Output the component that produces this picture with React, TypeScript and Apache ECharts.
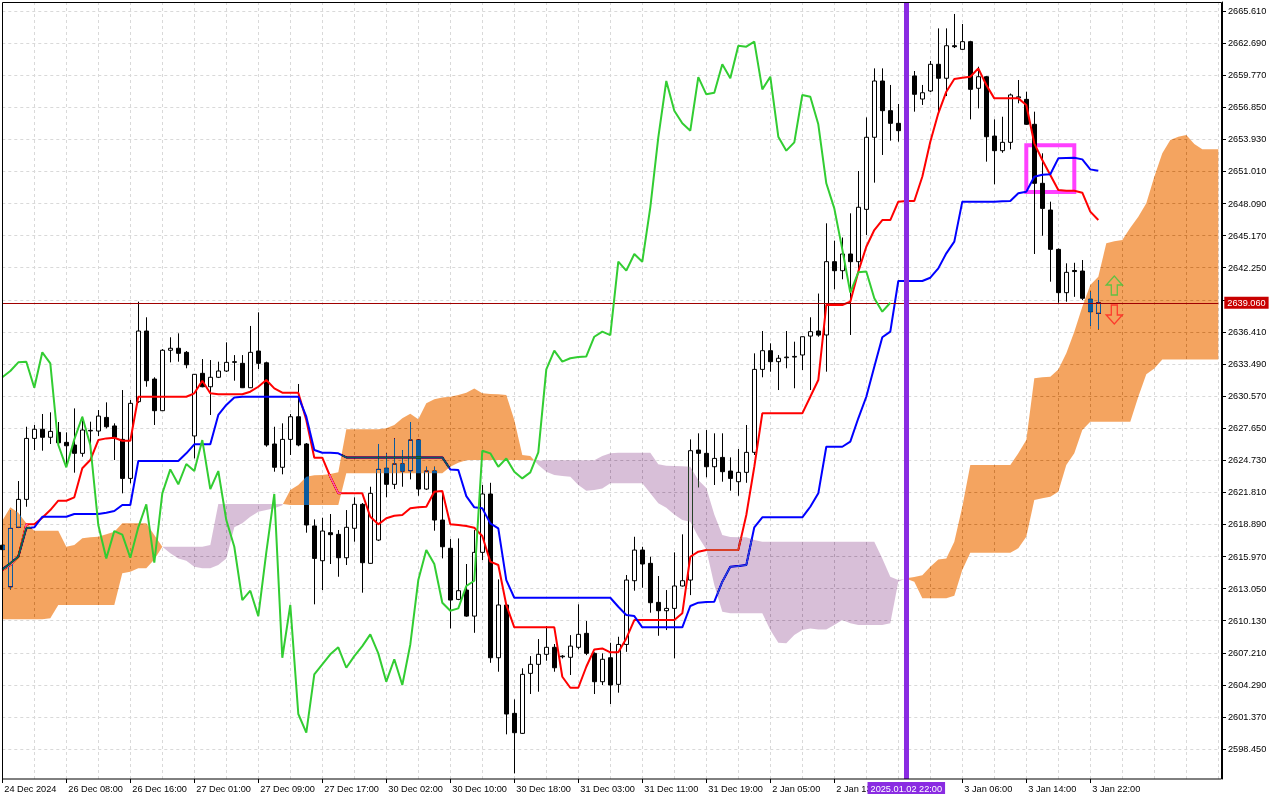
import React, { useEffect, useRef } from "react";
import * as echarts from "echarts";

// ---------- DATA ----------
const opens = [
  2617.0, 2613.22, 2618.63, 2621.17, 2626.72, 2627.55, 2626.82, 2627.27, 2626.36, 2626.12,
  2625.36, 2627.4, 2627.39, 2628.63, 2627.85, 2626.63, 2623.08, 2630.06, 2636.49, 2632.12,
  2629.24, 2634.74, 2634.92, 2634.55, 2626.94, 2632.64, 2631.42, 2632.28, 2632.85, 2633.64,
  2633.55, 2631.33, 2634.67, 2633.6, 2626.21, 2624.09, 2626.63, 2628.69, 2626.21, 2618.75,
  2615.59, 2618.14, 2617.99, 2615.86, 2618.54, 2620.72, 2615.35, 2617.47, 2624.0, 2622.54,
  2624.39, 2623.78, 2626.57, 2622.11, 2623.75, 2619.29, 2616.72, 2612.07, 2612.92, 2610.55,
  2616.35, 2621.66, 2606.76, 2611.56, 2601.7, 2599.88, 2605.34, 2606.16, 2607.07, 2607.71,
  2606.85, 2606.8, 2607.71, 2608.98, 2607.16, 2604.58, 2606.76, 2604.34, 2607.97, 2613.77,
  2616.56, 2615.35, 2611.8, 2611.04, 2611.25, 2613.29, 2613.83, 2625.66, 2625.36, 2624.14,
  2624.99, 2623.75, 2622.78, 2623.63, 2625.45, 2633.0, 2634.7, 2633.7, 2634.06, 2634.12,
  2634.31, 2636.03, 2636.49, 2636.13, 2642.8, 2641.98, 2643.5, 2642.8, 2647.56, 2654.12,
  2659.24, 2656.54, 2655.39, 2654.72, 2659.7, 2657.6, 2658.33, 2660.76, 2659.49, 2662.45,
  2662.12, 2662.82, 2658.58, 2659.63, 2654.23, 2652.9, 2653.66, 2657.7, 2657.57, 2655.3,
  2649.93, 2647.5, 2643.92, 2639.98, 2642.0, 2641.95, 2639.38, 2638.1,
];
const closes = [
  2616.6, 2618.53, 2621.17, 2626.72, 2627.55, 2626.82, 2627.36, 2626.32, 2626.05, 2625.36,
  2627.48, 2627.45, 2628.75, 2627.78, 2626.82, 2623.08, 2629.91, 2636.49, 2631.97, 2629.24,
  2634.74, 2634.92, 2634.46, 2633.42, 2632.55, 2631.42, 2632.28, 2632.85, 2633.64, 2633.7,
  2631.33, 2634.55, 2633.55, 2626.12, 2624.09, 2626.63, 2628.69, 2626.12, 2618.84, 2615.8,
  2618.29, 2617.96, 2615.86, 2618.63, 2620.72, 2615.41, 2621.72, 2623.9, 2622.54, 2624.39,
  2623.75, 2626.57, 2622.11, 2623.75, 2619.29, 2616.86, 2612.01, 2612.86, 2610.55, 2616.35,
  2621.66, 2606.76, 2611.56, 2601.64, 2599.94, 2605.25, 2606.16, 2607.07, 2607.71, 2605.85,
  2606.91, 2607.82, 2608.89, 2607.16, 2604.58, 2606.62, 2604.28, 2607.97, 2613.83, 2616.56,
  2615.29, 2611.77, 2611.04, 2611.25, 2613.29, 2613.77, 2625.6, 2625.36, 2624.14, 2624.9,
  2623.69, 2623.08, 2623.63, 2625.45, 2633.0, 2634.7, 2633.7, 2634.01, 2634.12, 2634.18,
  2635.97, 2636.43, 2636.12, 2642.8, 2641.98, 2643.5, 2642.8, 2647.75, 2654.12, 2659.24,
  2656.54, 2655.39, 2654.72, 2659.6, 2658.03, 2658.17, 2660.76, 2659.49, 2662.45, 2662.36,
  2662.82, 2658.48, 2659.63, 2654.17, 2652.9, 2653.66, 2657.97, 2657.8, 2655.3, 2649.93,
  2647.65, 2643.92, 2639.98, 2641.83, 2641.9, 2639.47, 2638.25, 2639.06,
];
const lows = [
  2616.0, 2612.98, 2618.56, 2620.5, 2625.66, 2625.6, 2626.21, 2626.12, 2624.23, 2623.6,
  2625.05, 2625.36, 2626.94, 2627.63, 2624.75, 2621.72, 2622.63, 2629.95, 2631.42, 2627.94,
  2629.21, 2633.64, 2633.7, 2633.1, 2624.9, 2631.37, 2628.85, 2632.21, 2632.76, 2631.97,
  2631.3, 2631.3, 2633.03, 2625.96, 2623.69, 2623.45, 2625.21, 2626.0, 2618.14, 2611.62,
  2612.92, 2615.29, 2614.13, 2615.2, 2617.32, 2612.68, 2615.33, 2617.38, 2621.36, 2622.11,
  2622.32, 2622.99, 2621.5, 2622.02, 2618.32, 2615.8, 2609.43, 2612.0, 2610.49, 2609.03,
  2615.65, 2606.3, 2605.49, 2599.79, 2596.24, 2599.82, 2603.46, 2603.67, 2606.49, 2605.49,
  2606.7, 2605.19, 2607.52, 2607.0, 2603.46, 2604.28, 2602.55, 2603.58, 2607.3, 2612.86,
  2613.13, 2610.86, 2608.76, 2609.28, 2606.71, 2613.24, 2612.46, 2622.27, 2623.18, 2622.48,
  2622.78, 2621.96, 2621.5, 2622.68, 2625.21, 2632.28, 2632.79, 2631.12, 2633.1, 2631.28,
  2632.94, 2631.12, 2635.97, 2632.79, 2640.28, 2641.2, 2636.13, 2642.0, 2645.23, 2649.99,
  2652.51, 2653.81, 2653.72, 2654.2, 2656.45, 2657.06, 2658.24, 2656.51, 2657.87, 2662.24,
  2662.06, 2655.75, 2656.75, 2651.9, 2649.84, 2652.71, 2653.02, 2657.21, 2655.24, 2643.5,
  2645.16, 2640.98, 2639.06, 2639.16, 2639.6, 2639.31, 2636.95, 2636.64,
];
const highs = [
  2617.5, 2620.2, 2622.84, 2627.78, 2627.94, 2628.94, 2629.09, 2628.21, 2627.27, 2629.45,
  2628.69, 2628.24, 2629.3, 2630.0, 2628.09, 2631.12, 2630.21, 2639.16, 2637.74, 2632.28,
  2634.85, 2635.92, 2636.28, 2634.67, 2632.58, 2633.94, 2633.85, 2633.7, 2635.46, 2634.3,
  2634.3, 2636.95, 2638.19, 2633.7, 2627.78, 2628.09, 2628.94, 2631.67, 2626.3, 2619.35,
  2619.5, 2619.84, 2618.38, 2620.2, 2621.36, 2620.84, 2622.32, 2626.21, 2625.36, 2626.72,
  2625.66, 2628.21, 2626.6, 2624.14, 2624.14, 2621.93, 2617.56, 2617.62, 2615.29, 2618.38,
  2622.48, 2622.68, 2613.89, 2611.7, 2602.97, 2605.8, 2606.91, 2608.46, 2609.65, 2608.01,
  2607.0, 2608.82, 2611.62, 2610.1, 2607.25, 2607.16, 2608.12, 2608.67, 2614.29, 2617.77,
  2616.86, 2615.95, 2614.2, 2612.92, 2616.35, 2617.99, 2626.63, 2627.18, 2627.48, 2627.18,
  2627.18, 2624.99, 2625.75, 2627.94, 2634.46, 2636.49, 2635.37, 2634.3, 2636.49, 2635.52,
  2636.0, 2637.74, 2639.9, 2646.29, 2644.71, 2645.0, 2647.2, 2651.05, 2655.93, 2660.39,
  2660.39, 2658.88, 2657.15, 2660.2, 2660.15, 2658.88, 2661.06, 2664.03, 2664.03, 2665.34,
  2664.43, 2662.9, 2660.54, 2659.7, 2655.75, 2655.99, 2658.1, 2659.33, 2658.27, 2656.45,
  2652.66, 2648.26, 2644.0, 2642.65, 2642.7, 2642.95, 2640.07, 2641.13,
];
const tenkan = [
  2614.74, 2615.2, 2615.95, 2618.9, 2618.9, 2619.5, 2620.2, 2621.05, 2621.05, 2621.36,
  2624.0, 2624.75, 2626.57, 2626.72, 2626.78, 2626.51, 2626.51, 2630.51, 2630.51, 2630.51,
  2630.51, 2630.51, 2630.51, 2630.51, 2630.82, 2631.97, 2630.82, 2630.73, 2630.73, 2630.73,
  2630.73, 2630.97, 2631.42, 2632.03, 2631.27, 2630.88, 2630.88, 2630.88, 2628.39, 2624.96,
  2624.96, 2623.23, 2621.72, 2621.72, 2621.72, 2621.72, 2619.59, 2618.9, 2619.45, 2619.68,
  2619.75, 2620.36, 2620.45, 2620.5, 2621.86, 2621.93, 2618.9, 2618.84, 2618.75, 2618.59,
  2617.84, 2615.5, 2615.2, 2611.56, 2609.53, 2609.53, 2609.53, 2609.53, 2609.53, 2609.53,
  2605.03, 2604.03, 2604.03, 2605.94, 2607.52, 2607.61, 2607.25, 2607.25, 2608.52, 2610.19,
  2610.19, 2610.19, 2610.19, 2610.19, 2610.19, 2610.8, 2615.95, 2616.41, 2616.56, 2616.56,
  2616.56, 2616.56, 2616.56, 2619.75, 2624.14, 2629.0, 2629.0, 2629.0, 2629.0, 2629.0,
  2629.0, 2630.51, 2632.03, 2638.86, 2638.86, 2638.86, 2639.16, 2641.89, 2644.16, 2645.68,
  2646.59, 2646.59, 2648.26, 2648.32, 2648.32, 2650.53, 2653.72, 2656.3, 2658.27, 2659.42,
  2659.54, 2659.63, 2660.39, 2658.88, 2657.66, 2657.66, 2657.66, 2657.66, 2657.06, 2653.57,
  2652.05, 2650.69, 2649.32, 2649.26, 2649.26, 2649.08, 2647.35, 2646.59,
];
const kijun = [
  2614.8, 2615.35, 2615.95, 2618.54, 2618.63, 2619.59, 2619.59, 2619.59, 2619.59, 2619.84,
  2619.84, 2619.84, 2619.84, 2619.96, 2620.11, 2620.66, 2620.66, 2624.66, 2624.66, 2624.66,
  2624.66, 2624.66, 2624.66, 2625.36, 2626.18, 2626.18, 2626.18, 2628.85, 2629.76, 2630.45,
  2630.51, 2630.51, 2630.51, 2630.51, 2630.51, 2630.51, 2630.51, 2630.51, 2628.69, 2625.66,
  2625.42, 2625.42, 2625.36, 2624.99, 2624.99, 2624.99, 2624.99, 2624.99, 2624.99, 2624.99,
  2624.99, 2624.99, 2624.99, 2624.99, 2624.99, 2624.99, 2623.9, 2623.84, 2621.47, 2620.45,
  2620.36, 2618.99, 2618.54, 2613.83, 2612.22, 2612.22, 2612.22, 2612.22, 2612.22, 2612.22,
  2612.22, 2612.22, 2612.22, 2612.22, 2612.22, 2612.22, 2612.22, 2611.4, 2610.65, 2610.55,
  2609.53, 2609.53, 2609.53, 2609.53, 2609.53, 2609.53, 2611.47, 2611.77, 2611.83, 2611.86,
  2613.68, 2615.04, 2615.11, 2615.2, 2618.63, 2619.54, 2619.54, 2619.54, 2619.54, 2619.54,
  2619.54, 2620.5, 2621.72, 2625.96, 2625.96, 2625.96, 2626.42, 2628.55, 2630.51, 2633.24,
  2635.92, 2636.43, 2641.04, 2641.04, 2641.04, 2641.04, 2641.34, 2642.19, 2643.56, 2644.62,
  2648.26, 2648.26, 2648.26, 2648.26, 2648.26, 2648.3, 2648.32, 2649.02, 2649.17, 2650.53,
  2650.71, 2650.75, 2652.2, 2652.23, 2652.26, 2652.11, 2651.2, 2651.08,
];
const spanA = [
  2619.23, 2620.45, 2619.96, 2618.99, 2618.32, 2618.32, 2618.32, 2618.32, 2616.86, 2617.02,
  2617.63, 2617.72, 2617.77, 2617.99, 2618.23, 2618.99, 2618.99, 2618.99, 2618.99, 2617.93,
  2616.85, 2616.26, 2615.8, 2615.59, 2615.04, 2614.9, 2614.9, 2615.2, 2615.8, 2618.63,
  2618.99, 2619.59, 2620.05, 2620.2, 2620.36, 2620.63, 2622.02, 2622.48, 2623.23, 2623.36,
  2623.39, 2623.48, 2623.65, 2627.55, 2627.55, 2627.55, 2627.55, 2627.55, 2627.64, 2627.95,
  2628.55, 2628.97, 2628.47, 2629.91, 2630.28, 2630.43, 2630.5, 2630.67, 2630.88, 2631.27,
  2630.82, 2630.76, 2630.73, 2630.67, 2628.39, 2625.21, 2625.11, 2624.3, 2623.69, 2623.39,
  2623.3, 2623.23, 2622.48, 2621.96, 2622.02, 2622.17, 2622.63, 2622.63, 2622.63, 2622.63,
  2622.63, 2621.72, 2620.81, 2620.4, 2619.8, 2619.3, 2619.14, 2617.77, 2616.62, 2613.38,
  2610.95, 2610.8, 2610.8, 2610.8, 2610.8, 2610.8, 2609.28, 2608.13, 2608.07, 2608.83,
  2609.28, 2609.43, 2609.34, 2609.34, 2609.74, 2610.19, 2609.89, 2609.74, 2609.74, 2609.74,
  2609.74, 2609.9, 2613.68, 2614.0, 2614.11, 2614.26, 2615.04, 2615.71, 2615.8, 2617.32,
  2620.5, 2624.3, 2624.3, 2624.3, 2624.3, 2624.3, 2624.3, 2625.36, 2626.57, 2632.19,
  2632.28, 2632.33, 2633.0, 2634.46, 2636.43, 2638.7, 2640.68, 2641.43, 2644.47, 2644.65,
  2644.77, 2645.89, 2646.89, 2648.11, 2650.53, 2652.66, 2653.87, 2654.17, 2654.33, 2653.51,
  2653.02, 2653.02, 2653.02,
];
const spanB = [
  2610.26, 2610.26, 2610.26, 2610.26, 2610.26, 2610.26, 2610.35, 2611.56, 2611.56, 2611.56,
  2611.56, 2611.56, 2611.56, 2611.56, 2611.56, 2614.44, 2614.59, 2614.9, 2614.9, 2615.71,
  2616.85, 2616.86, 2616.86, 2616.86, 2616.86, 2616.86, 2617.02, 2620.75, 2620.75, 2620.75,
  2620.75, 2620.75, 2620.75, 2620.75, 2620.75, 2620.75, 2620.66, 2620.66, 2620.66, 2620.66,
  2620.66, 2620.66, 2620.66, 2623.54, 2623.54, 2623.54, 2623.54, 2623.54, 2623.54, 2623.54,
  2623.54, 2623.54, 2623.54, 2623.54, 2623.54, 2623.54, 2624.14, 2624.51, 2624.72, 2624.75,
  2624.75, 2624.75, 2624.75, 2624.75, 2624.75, 2624.75, 2624.75, 2624.69, 2624.72, 2624.72,
  2624.72, 2624.72, 2624.72, 2624.72, 2624.72, 2625.11, 2625.36, 2625.42, 2625.42, 2625.42,
  2625.42, 2625.42, 2624.36, 2624.23, 2624.21, 2624.18, 2624.14, 2622.93, 2622.2, 2619.8,
  2617.93, 2617.75, 2617.72, 2617.72, 2617.47, 2617.32, 2617.32, 2617.32, 2617.32, 2617.32,
  2617.32, 2617.32, 2617.32, 2617.32, 2617.32, 2617.32, 2617.32, 2617.32, 2617.32, 2617.32,
  2615.8, 2614.13, 2613.83, 2613.95, 2613.68, 2612.17, 2612.17, 2612.17, 2612.17, 2612.4,
  2614.74, 2616.32, 2616.32, 2616.32, 2616.32, 2616.32, 2616.32, 2616.72, 2617.77, 2621.11,
  2621.27, 2621.41, 2621.86, 2624.3, 2625.36, 2627.48, 2628.24, 2628.24, 2628.24, 2628.24,
  2628.24, 2628.24, 2630.51, 2632.55, 2633.09, 2633.91, 2633.91, 2633.91, 2633.91, 2633.91,
  2633.91, 2633.91, 2633.91,
];
const CHIKOU_SHIFT = 26;
const priceTicks = [
  2598.45, 2601.37, 2604.29, 2607.21, 2610.13, 2613.05, 2615.97, 2618.89, 2621.81, 2624.73,
  2627.65, 2630.57, 2633.49, 2636.41, 2639.33, 2642.25, 2645.17, 2648.09, 2651.01, 2653.93,
  2656.85, 2659.77, 2662.69, 2665.61,
];
// the 2639.330 label is hidden behind the red price label in the reference
const priceLabels = [
  2598.45, 2601.37, 2604.29, 2607.21, 2610.13, 2613.05, 2615.97, 2618.89, 2621.81, 2624.73,
  2627.65, 2630.57, 2633.49, 2636.41, 2642.25, 2645.17, 2648.09, 2651.01, 2653.93,
  2656.85, 2659.77, 2662.69, 2665.61,
];
const timeTickBars = [0, 8, 16, 24, 32, 40, 48, 56, 64, 72, 80, 88, 96, 104, 120, 128, 136];
const timeTickLabels = [
  "24 Dec 2024", "26 Dec 08:00", "26 Dec 16:00", "27 Dec 01:00", "27 Dec 09:00", "27 Dec 17:00",
  "30 Dec 02:00", "30 Dec 10:00", "30 Dec 18:00", "31 Dec 03:00", "31 Dec 11:00", "31 Dec 19:00",
  "2 Jan 05:00", "2 Jan 13:00", "3 Jan 06:00", "3 Jan 14:00", "3 Jan 22:00",
];
const BAR_SLOTS = 153;
const bidPrice = 2639.06;
const bidLabel = "2639.060";
const markerBar = 113;
const markerLabel = "2025.01.02 22:00";
const signalBar = 139;
const upArrowPrice = 2640.63;
const downArrowPrice = 2637.99;
const boxBars = [128, 134];
const boxPrices = [2653.39, 2649.14];
const Y_MIN = 2595.727;
const Y_MAX = 2666.429;

// ---------- STYLE ----------
const FONT = "'Liberation Sans', Arial, sans-serif";
const FS = 9.2;
const CLOUD_UP = "#0b5b9f"; // inverse of sandybrown, blended with "difference"
const CLOUD_DN = "#274027"; // inverse of thistle
const GRID_COLOR = "#d9d9d9";

const UP_ARROW = "path://M8 0 L16 9 L11 9 L11 19 L5 19 L5 9 L0 9 Z";
const DOWN_ARROW = "path://M5 0 L11 0 L11 10 L16 10 L8 19 L0 10 L5 10 Z";

function buildOption() {
  const categories = Array.from({ length: BAR_SLOTS }, (_, i) => String(i));
  const candleData = opens.map((o, i) => [o, closes[i], lows[i], highs[i]]);
  const chikou = closes.slice(CHIKOU_SHIFT);
  const tickSet: Record<number, string> = {};
  timeTickBars.forEach((b, k) => (tickSet[b] = timeTickLabels[k]));

  const cloudRender = (params: any, api: any) => {
    if (params.dataIndex !== 0) return null;
    const n = spanA.length;
    const pa: number[][] = [];
    const pb: number[][] = [];
    for (let i = 0; i < n; i++) {
      pa.push(api.coord([i, spanA[i]]));
      pb.push(api.coord([i, spanB[i]]));
    }
    const polys: { sign: number; pts: number[][] }[] = [];
    let sign = spanA[0] - spanB[0] >= 0 ? 1 : -1;
    let top = [pa[0]];
    let bot = [pb[0]];
    for (let i = 1; i < n; i++) {
      const d = spanA[i] - spanB[i];
      const s = d > 0 ? 1 : d < 0 ? -1 : sign;
      if (s !== sign) {
        const d0 = spanA[i - 1] - spanB[i - 1];
        const t = d0 / (d0 - d);
        const c = [
          pa[i - 1][0] + t * (pa[i][0] - pa[i - 1][0]),
          pa[i - 1][1] + t * (pa[i][1] - pa[i - 1][1]),
        ];
        top.push(c);
        bot.push(c);
        polys.push({ sign, pts: top.concat(bot.slice().reverse()) });
        top = [c, pa[i]];
        bot = [c, pb[i]];
        sign = s;
      } else {
        top.push(pa[i]);
        bot.push(pb[i]);
      }
    }
    polys.push({ sign, pts: top.concat(bot.slice().reverse()) });
    return {
      type: "group",
      children: polys.map((p) => ({
        type: "polygon",
        shape: { points: p.pts },
        style: { fill: p.sign > 0 ? CLOUD_UP : CLOUD_DN, stroke: null },
      })),
    };
  };

  return {
    animation: false,
    backgroundColor: "#ffffff",
    textStyle: { fontFamily: FONT },
    grid: {
      left: 2.3,
      top: 2,
      width: 1216,
      height: 777,
      containLabel: false,
      outerBoundsMode: "none",
    },
    xAxis: {
      type: "category",
      data: categories,
      boundaryGap: false,
      axisLine: { show: false },
      axisTick: {
        show: true,
        length: 4,
        interval: (i: number) => tickSet[i] !== undefined,
        lineStyle: { color: "#000" },
      },
      axisLabel: {
        show: true,
        interval: (i: number) => tickSet[i] !== undefined,
        formatter: (_v: string, i: number) => tickSet[i] || "",
        align: "left",
        padding: [0, 0, 0, 2],
        margin: 5,
        color: "#000",
        fontSize: FS,
        fontFamily: FONT,
      },
      splitLine: {
        show: true,
        interval: (i: number) => i % 4 === 0,
        lineStyle: { color: GRID_COLOR, type: [3, 3], width: 1 },
      },
    },
    yAxis: {
      type: "value",
      position: "right",
      offset: 3.7,
      min: Y_MIN,
      max: Y_MAX,
      scale: true,
      axisLine: { show: true, lineStyle: { color: "#000" } },
      axisTick: { show: true, length: 4, customValues: priceTicks, lineStyle: { color: "#000" } },
      axisLabel: {
        customValues: priceLabels,
        formatter: (v: number) => v.toFixed(3),
        margin: 6,
        color: "#000",
        fontSize: FS,
        fontFamily: FONT,
      },
      splitLine: { show: true, lineStyle: { color: GRID_COLOR, type: [3, 3], width: 1 } },
    },
    series: [
      {
        type: "candlestick",
        data: candleData,
        barWidth: 4,
        z: 2,
        silent: true,
        itemStyle: {
          color: "#ffffff",
          color0: "#000000",
          borderColor: "#000000",
          borderColor0: "#000000",
          borderColorDoji: "#000000",
          borderWidth: 1,
        },
        markLine: {
          silent: true,
          symbol: ["none", "none"],
          lineStyle: { color: "#a00000", width: 1, type: "solid" },
          label: {
            show: true,
            position: "end",
            formatter: bidLabel,
            color: "#ffffff",
            backgroundColor: "#c80000",
            padding: [2, 3, 1, 3],
            distance: 6,
            fontSize: FS,
            fontFamily: FONT,
          },
          data: [{ yAxis: bidPrice }],
        },
      },
      {
        type: "line",
        name: "Tenkan",
        data: tenkan,
        z: 3,
        silent: true,
        showSymbol: false,
        symbol: "none",
        lineStyle: { color: "#ff0000", width: 2 },
      },
      {
        type: "line",
        name: "Kijun",
        data: kijun,
        z: 3,
        silent: true,
        showSymbol: false,
        symbol: "none",
        lineStyle: { color: "#0000ff", width: 2 },
      },
      {
        type: "custom",
        name: "Cloud",
        coordinateSystem: "cartesian2d",
        renderItem: cloudRender,
        data: [[0, spanA[0]]],
        z: 4,
        silent: true,
      },
      {
        type: "line",
        name: "Chikou",
        data: chikou,
        z: 5,
        silent: true,
        showSymbol: false,
        symbol: "none",
        lineStyle: { color: "#32cd32", width: 2 },
      },
      {
        type: "scatter",
        z: 6,
        silent: true,
        symbolSize: [16, 19],
        data: [
          {
            value: [signalBar, upArrowPrice],
            symbol: UP_ARROW,
            itemStyle: { color: "rgba(0,0,0,0)", borderColor: "#3cc83c", borderWidth: 1.4 },
          },
          {
            value: [signalBar, downArrowPrice],
            symbol: DOWN_ARROW,
            itemStyle: { color: "rgba(0,0,0,0)", borderColor: "#ff2020", borderWidth: 1.4 },
          },
        ],
        markLine: {
          silent: true,
          symbol: ["none", "none"],
          lineStyle: { color: "#8a2be2", width: 5, type: "solid" },
          label: {
            show: true,
            position: "start",
            formatter: markerLabel,
            color: "#ffffff",
            backgroundColor: "#8a2be2",
            padding: [2, 3, 1, 3],
            distance: 3,
            fontSize: FS,
            fontFamily: FONT,
          },
          data: [{ xAxis: markerBar }],
        },
        markArea: {
          silent: true,
          itemStyle: { color: "rgba(0,0,0,0)", borderColor: "#ff40ff", borderWidth: 4 },
          data: [[{ xAxis: boxBars[0], yAxis: boxPrices[0] }, { xAxis: boxBars[1], yAxis: boxPrices[1] }]],
        },
      },
    ],
    graphic: [
      {
        type: "rect",
        z: 100,
        silent: true,
        shape: { x: 2.5, y: 2.5, width: 1219, height: 776.5 },
        style: { fill: "none", stroke: "#000000", lineWidth: 1 },
      },
    ],
  };
}

export default function App() {
  const ref = useRef<HTMLDivElement>(null);
  useEffect(() => {
    if (!ref.current) return;
    const chart = echarts.init(ref.current, null, { renderer: "svg", width: 1280, height: 800 });
    chart.setOption(buildOption() as any);
    return () => chart.dispose();
  }, []);
  return (
    <>
      <style>{`html,body{margin:0;padding:0;overflow:hidden;background:#fff}
path[fill="${CLOUD_UP}"],path[fill="${CLOUD_DN}"]{mix-blend-mode:difference}`}</style>
      <div ref={ref} style={{ width: 1280, height: 800 }} />
    </>
  );
}
